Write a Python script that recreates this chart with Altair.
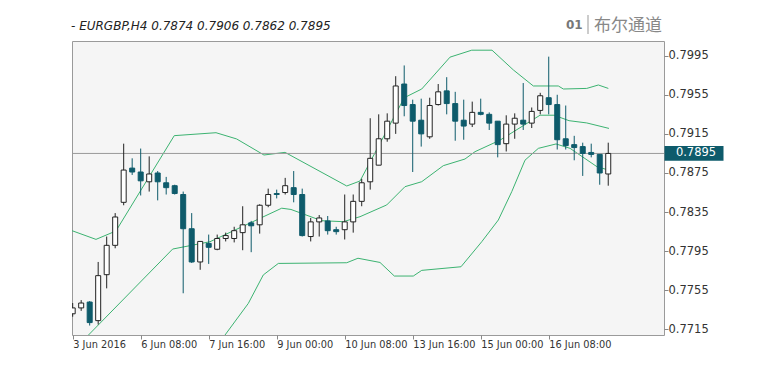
import json
import altair as alt
import pandas as pd

TEAL = "#0e5b6b"
GREEN = "#3cb371"

# ---- candle data (H4 bars, index 0 = 3 Jun 2016 00:00) ----
opens = [0.7731, 0.7737, 0.7743, 0.7724, 0.7771, 0.7801, 0.7845, 0.7880, 0.7876, 0.7866,
         0.7875, 0.7865, 0.7862, 0.7853, 0.7818, 0.7784, 0.7803, 0.7797, 0.7808, 0.7808,
         0.7814, 0.7824, 0.7822, 0.7842, 0.7854, 0.7855, 0.7860, 0.7853, 0.7810, 0.7825,
         0.7826, 0.7817, 0.7817, 0.7825, 0.7846, 0.7866, 0.7883, 0.7910, 0.7926, 0.7966,
         0.7945, 0.7929, 0.7912, 0.7945, 0.7959, 0.7946, 0.7929, 0.7925, 0.7937, 0.7935,
         0.7928, 0.7905, 0.7925, 0.7929, 0.7926, 0.7939, 0.7952, 0.7945, 0.7910, 0.7904,
         0.7902, 0.7896, 0.7894, 0.7874]
highs = [0.7742, 0.7745, 0.7744, 0.7784, 0.7810, 0.7834, 0.7905, 0.7890, 0.7900, 0.7892,
         0.7877, 0.7871, 0.7863, 0.7856, 0.7834, 0.7805, 0.7812, 0.7812, 0.7814, 0.7820,
         0.7841, 0.7826, 0.7843, 0.7859, 0.7858, 0.7870, 0.7877, 0.7859, 0.7829, 0.7832,
         0.7831, 0.7820, 0.7853, 0.7853, 0.7869, 0.7931, 0.7935, 0.7936, 0.7974, 0.7985,
         0.7950, 0.7951, 0.7952, 0.7966, 0.7973, 0.7958, 0.7950, 0.7948, 0.7951, 0.7937,
         0.7928, 0.7934, 0.7936, 0.7967, 0.7942, 0.7957, 0.7994, 0.7955, 0.7944, 0.7913,
         0.7906, 0.7905, 0.7894, 0.7906]
lows = [0.7728, 0.7734, 0.7719, 0.7720, 0.7757, 0.7798, 0.7842, 0.7873, 0.7852, 0.7856,
        0.7847, 0.7853, 0.7853, 0.7752, 0.7783, 0.7776, 0.7782, 0.7796, 0.7805, 0.7804,
        0.7796, 0.7794, 0.7813, 0.7840, 0.7849, 0.7853, 0.7845, 0.7810, 0.7805, 0.7810,
        0.7812, 0.7812, 0.7807, 0.7814, 0.7841, 0.7858, 0.7883, 0.7907, 0.7915, 0.7933,
        0.7876, 0.7902, 0.7910, 0.7944, 0.7935, 0.7908, 0.7909, 0.7922, 0.7934, 0.7919,
        0.7891, 0.7897, 0.7910, 0.7919, 0.7921, 0.7935, 0.7935, 0.7899, 0.7899, 0.7888,
        0.7872, 0.7891, 0.7863, 0.7862]
closes = [0.7737, 0.7742, 0.7722, 0.7770, 0.7801, 0.7830, 0.7878, 0.7876, 0.7867, 0.7874,
          0.7866, 0.7860, 0.7854, 0.7818, 0.7784, 0.7805, 0.7799, 0.7808, 0.7811, 0.7816,
          0.7822, 0.7821, 0.7842, 0.7853, 0.7853, 0.7862, 0.7853, 0.7811, 0.7825, 0.7829,
          0.7816, 0.7815, 0.7825, 0.7846, 0.7865, 0.7890, 0.7910, 0.7928, 0.7964, 0.7944,
          0.7928, 0.7915, 0.7944, 0.7958, 0.7946, 0.7928, 0.7923, 0.7937, 0.7935, 0.7926,
          0.7904, 0.7925, 0.7931, 0.7925, 0.7938, 0.7954, 0.7945, 0.7909, 0.7903, 0.7901,
          0.7895, 0.7894, 0.7875, 0.7895]

# ---- Bollinger band vertices (bar index, price) ----
upper_i = [-0.08, 2.74, 5.09, 11.95, 16.86, 19.29, 22.5, 24.98, 32.24, 33.8, 39.01, 41.06,
           44.39, 46.94, 49.33, 51.84, 54.19, 57.13, 57.72, 60.47, 61.84, 63.01]
upper_v = [0.7816, 0.78071, 0.78157, 0.79132, 0.79162, 0.79098, 0.78934, 0.78961, 0.78617,
           0.78668, 0.7952, 0.79609, 0.79935, 0.80006, 0.80006, 0.79804, 0.7964, 0.7964,
           0.79609, 0.79615, 0.7965, 0.79615]
middle_i = [1.86, 11.76, 16.15, 24.59, 25.68, 29.29, 31.84, 33.8, 36.94, 39.09, 41.06, 43.6,
            46.15, 47.33, 50.27, 54.98, 56.62, 58.39, 60.47, 63.09]
middle_v = [0.77093, 0.77972, 0.78047, 0.7839, 0.78377, 0.78262, 0.78252, 0.78303, 0.78423,
            0.7861, 0.78661, 0.78825, 0.78893, 0.78968, 0.79086, 0.79341, 0.79341, 0.79285,
            0.79262, 0.79206]
lower_i = [17.92, 20.66, 22.42, 24.19, 32.24, 33.56, 36.15, 37.84, 40.07, 41.06, 45.68,
           48.12, 50.07, 51.65, 53.21, 54.78, 56.86, 58.51, 61.68, 63.01]
lower_v = [0.77093, 0.77416, 0.77707, 0.77825, 0.77832, 0.77878, 0.77835, 0.77696, 0.77696,
           0.77754, 0.77791, 0.78047, 0.78269, 0.78559, 0.78881, 0.79002, 0.79047, 0.79002,
           0.78814, 0.78781]

# ---- axis labels ----
x_label_idx = [0, 8, 16, 24, 32, 40, 48, 56]
x_labels = ["3 Jun 2016", "6 Jun 08:00", "7 Jun 16:00", "9 Jun 00:00",
            "10 Jun 08:00", "13 Jun 16:00", "15 Jun 00:00", "16 Jun 08:00"]
y_ticks = [0.7715, 0.7755, 0.7795, 0.7835, 0.7875, 0.7915, 0.7955, 0.7995]
last_price = [0.7895]
header_text = "- EURGBP,H4 0.7874 0.7906 0.7862 0.7895"
badge_num = "01"
badge_text = "布尔通道"

FONT = "DejaVu Sans"

candles = pd.DataFrame({"i": list(range(len(opens))), "open": opens, "high": highs,
                        "low": lows, "close": closes})
candles["dir"] = ["up" if c >= o else "down" for o, c in zip(opens, closes)]

bands = pd.concat([
    pd.DataFrame({"i": upper_i, "val": upper_v, "band": "upper"}),
    pd.DataFrame({"i": middle_i, "val": middle_v, "band": "middle"}),
    pd.DataFrame({"i": lower_i, "val": lower_v, "band": "lower"}),
])

xs = alt.Scale(domain=[-0.08, 69.56], nice=False, zero=False, padding=0)
ys = alt.Scale(domain=[0.77093, 0.8010], nice=False, zero=False, padding=0)

x_axis = alt.Axis(values=x_label_idx,
                  labelExpr=json.dumps(x_labels) + "[round(datum.value / 8)]",
                  labelAlign="left", labelPadding=0, tickSize=4, tickColor="#888",
                  domain=False, grid=False, title=None, labelFont=FONT,
                  labelFontSize=9.8, labelColor="#333")
y_axis = alt.Axis(orient="right", values=y_ticks, format=".4f", tickSize=4,
                  tickColor="#888", domain=False, grid=False, title=None,
                  labelFont=FONT, labelFontSize=11.5, labelColor="#333", labelPadding=0)

X = alt.X("i:Q", scale=xs, axis=x_axis)

dir_stroke = alt.Stroke("dir:N", scale=alt.Scale(domain=["up", "down"], range=["#222222", TEAL]),
                        legend=None)
dir_fill = alt.Fill("dir:N", scale=alt.Scale(domain=["up", "down"], range=["#ffffff", TEAL]),
                    legend=None)

base = alt.Chart(candles)

wicks = base.mark_rule(strokeWidth=1, clip=True).encode(
    x=X, y=alt.Y("low:Q", scale=ys, axis=y_axis), y2="high:Q", stroke=dir_stroke)

bodies = base.mark_bar(size=5, strokeWidth=1, clip=True).encode(
    x=X, y=alt.Y("open:Q", scale=ys, axis=y_axis), y2="close:Q",
    fill=dir_fill, stroke=dir_stroke)

lines = alt.Chart(bands).mark_line(color=GREEN, strokeWidth=1, clip=True).encode(
    x=X, y=alt.Y("val:Q", scale=ys, axis=y_axis), detail="band:N")

price_df = pd.DataFrame({"price": last_price})
price_line = alt.Chart(price_df).mark_rule(color="#9a9a9a", strokeWidth=1, clip=False).encode(
    x=alt.value(0), x2=alt.value(592), y=alt.Y("price:Q", scale=ys, axis=y_axis))

price_box = alt.Chart(price_df).mark_point(
    shape="M-1,-0.25L1,-0.25L1,0.25L-1,0.25Z", filled=True, size=3481, color=TEAL,
    opacity=1, clip=False).encode(x=alt.value(622), y=alt.Y("price:Q", scale=ys, axis=y_axis))

price_txt = alt.Chart(price_df).mark_text(
    color="white", font=FONT, fontSize=11.5, clip=False).encode(
    x=alt.value(624), y=alt.Y("price:Q", scale=ys, axis=y_axis),
    text=alt.Text("price:Q", format=".4f"))

hdr = alt.Chart(pd.DataFrame({"t": [header_text]})).mark_text(
    align="left", baseline="alphabetic", font=FONT, fontSize=12, fontStyle="italic",
    color="#222", clip=False).encode(x=alt.value(-1), y=alt.value(-11), text="t:N")

num = alt.Chart(pd.DataFrame({"t": [badge_num]})).mark_text(
    align="left", baseline="alphabetic", font=FONT, fontSize=12, fontWeight="bold",
    color="#777", clip=False).encode(x=alt.value(494), y=alt.value(-12), text="t:N")

bar_sep = alt.Chart(pd.DataFrame({"t": [1]})).mark_rule(color="#999", strokeWidth=1).encode(
    x=alt.value(516), y=alt.value(-26), y2=alt.value(-7))

cn = alt.Chart(pd.DataFrame({"t": [badge_text]})).mark_text(
    align="left", baseline="alphabetic", font="Noto Sans CJK SC", fontSize=17,
    color="#888", clip=False).encode(x=alt.value(522), y=alt.value(-10), text="t:N")

chart = alt.layer(lines, price_line, wicks, bodies, price_box, price_txt,
                  hdr, num, bar_sep, cn).properties(
    width=592, height=294,
    padding={"left": 64, "top": 33, "right": 80, "bottom": 26},
    autosize=alt.AutoSizeParams(type="none"),
).configure_view(fill="#f5f5f5", stroke="#9a9a9a", strokeWidth=1)

chart.save("out.html", embed_options={"renderer": "svg", "actions": False})
